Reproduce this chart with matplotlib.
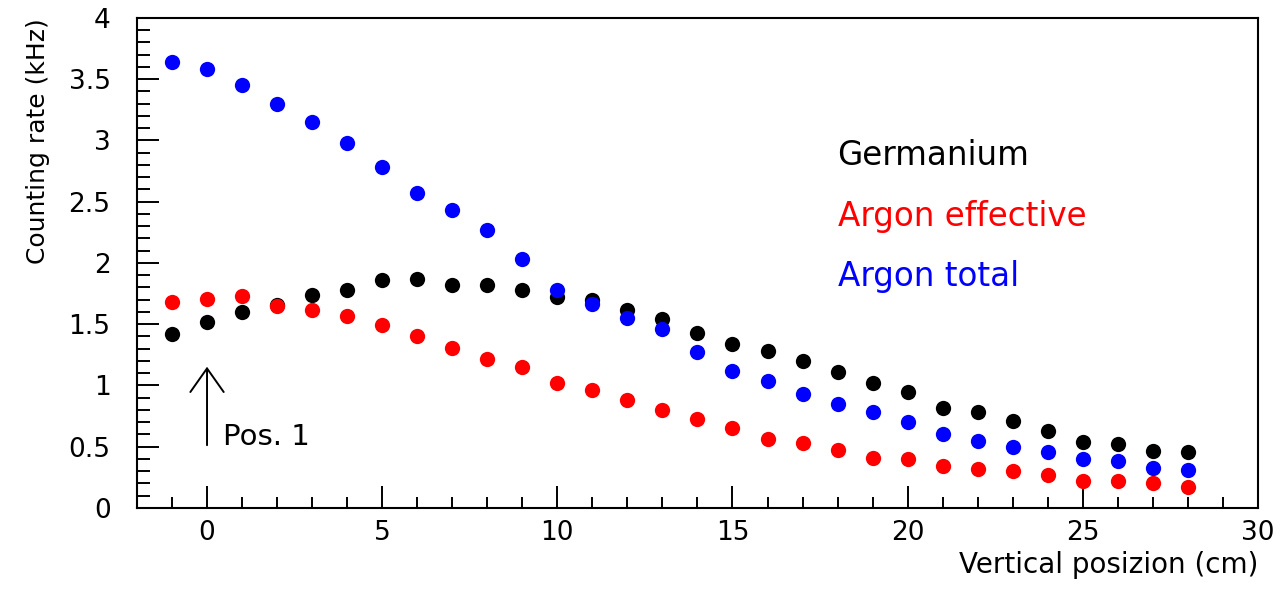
# counting rate vs vertical position

import numpy as np
import matplotlib.pyplot as plt
from matplotlib.ticker import MultipleLocator

positions = list(range(-1, 29))

germanium = [1.42, 1.52, 1.60, 1.66, 1.74, 1.78, 1.86, 1.87, 1.82, 1.82, 1.78, 1.72,
             1.70, 1.62, 1.54, 1.43, 1.34, 1.28, 1.20, 1.11, 1.02, 0.95, 0.82, 0.78,
             0.71, 0.63, 0.54, 0.52, 0.465, 0.46]

argon_eff = [1.68, 1.71, 1.73, 1.65, 1.62, 1.57, 1.49, 1.40, 1.31, 1.22, 1.15, 1.02,
             0.96, 0.88, 0.80, 0.73, 0.655, 0.56, 0.53, 0.475, 0.405, 0.40, 0.345, 0.315,
             0.30, 0.27, 0.22, 0.22, 0.20, 0.17]

argon_tot = [3.64, 3.58, 3.45, 3.30, 3.15, 2.98, 2.78, 2.57, 2.43, 2.27, 2.03, 1.78,
             1.665, 1.555, 1.46, 1.275, 1.12, 1.04, 0.93, 0.845, 0.78, 0.70, 0.605, 0.55,
             0.495, 0.455, 0.40, 0.385, 0.33, 0.31]

series_names = ["Germanium", "Argon effective", "Argon total"]
series_colors = ["black", "red", "blue"]

fig = plt.figure(figsize=(12.86, 5.90), dpi=100)
ax = fig.add_axes([0.1065, 0.139, 0.8717, 0.8305])

for vals, col in zip([germanium, argon_eff, argon_tot], series_colors):
    ax.plot(positions, vals, "o", color=col, ms=11, mew=0)

ax.set_xlim(-2, 30)
ax.set_ylim(0, 4)

ax.xaxis.set_major_locator(MultipleLocator(5))
ax.xaxis.set_minor_locator(MultipleLocator(1))
ax.yaxis.set_major_locator(MultipleLocator(0.5))
ax.yaxis.set_minor_locator(MultipleLocator(0.1))
ax.yaxis.set_major_formatter(plt.FuncFormatter(lambda v, p: f"{v:g}"))

for s in ax.spines.values():
    s.set_linewidth(1.5)
ax.tick_params(which="both", direction="in", top=False, right=False, width=1.4,
               labelsize=19, colors="black")
ax.tick_params(axis="y", which="major", length=16, pad=19)
ax.tick_params(axis="y", which="minor", length=9)
ax.tick_params(axis="x", which="major", length=16, pad=9)
ax.tick_params(axis="x", which="minor", length=8)

ax.set_xlabel("Vertical posizion (cm)", fontsize=20, loc="right")
ax.set_ylabel("Counting rate (kHz)", fontsize=18, loc="top")
ax.xaxis.set_label_coords(1.0, -0.087)
ax.yaxis.set_label_coords(-0.0776, 1.0)

# legend as coloured text
for i, (name, col) in enumerate(zip(series_names, series_colors)):
    ax.text(18.0, 2.88 - i * 0.497, name, color=col, fontsize=23.5, va="center", ha="left")

# arrow marking position 1
ax.annotate("", xy=(0, 1.176), xytext=(0, 0.49),
            arrowprops=dict(arrowstyle="->,head_length=1.7,head_width=1.2", lw=1.4, color="black"))
ax.text(0.45, 0.58, "Pos. 1", fontsize=21, va="center", ha="left")

fig.savefig("out.png", dpi=100)
